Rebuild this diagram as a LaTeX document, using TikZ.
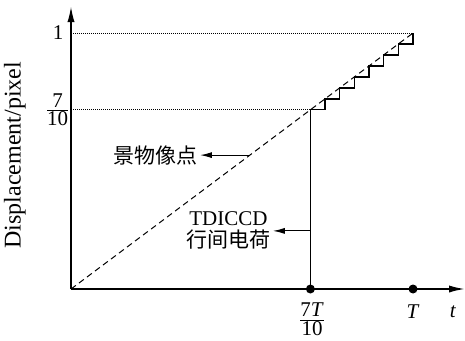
\documentclass[tikz,border=0pt]{standalone}
\usepackage{fontspec}
\setmainfont{Liberation Serif}
\newfontfamily\cjk{Noto Sans CJK SC}
\usetikzlibrary{arrows.meta, positioning}

\begin{document}
\begin{tikzpicture}[x=171pt, y=128pt, font=\fontsize{10.5}{11}\selectfont,
  tickdot/.style={circle, fill, inner sep=0pt, minimum size=4.5pt},
  axisline/.style={line width=0.9pt, -{Latex[length=8pt, width=3.6pt]}},
  pointer/.style={line width=0.6pt, -{Latex[length=6pt, width=3pt]}},
  guide/.style={line width=0.4pt, dash pattern=on 0.5pt off 0.5pt}]
\useasboundingbox (-0.2076,-0.1992) rectangle (1.152,1.1289);

% axes
\coordinate (o) at (0,0);
\coordinate (xend) at (1.152,0);
\coordinate (yend) at (0,1.105);
\draw[axisline] (o) -- (xend);
\draw[axisline] (o) -- (yend);

% levels
\coordinate (y1) at (0,1);
\coordinate (y7) at (0,0.7);
\coordinate (top) at (1,1);
\coordinate (sev) at (0.7,0.7);
\draw[guide] (y1) -- (top);
\draw[guide] (y7) -- (sev);

% image point and line charge
\draw[line width=0.5pt, dash pattern=on 3pt off 2pt] (o) -- (top);
\node[tickdot] (t7) at (0.7,0) {};
\node[tickdot] (t1) at (1,0) {};
\draw[line width=0.7pt] (t7.center) -- (sev);
\draw[line width=0.7pt] (sev) \foreach \i in {1,...,7} {-- ++(0.042857,0) -- ++(0,0.042857)};

% labels
\node (lab1) at (-0.038,1) {1};
\node (lab7) at (-0.039,0.7) {$\frac{\mbox{7}}{\mbox{10}}$};
\node[rotate=90, font=\fontsize{12}{14}\selectfont] (ylab) at (-0.164,0.523) {Displacement/pixel};
\node[inner sep=0pt] (l7) at (0.705,-0.118) {$\frac{\mbox{7\textit{T}}}{\mbox{10}}$};
\node (lT) at (1,-0.09) {\textit{T}};
\node (lt) at (1.117,-0.09) {\textit{t}};

\node[anchor=east, inner sep=1pt] (scene) at (0.377,0.523) {\cjk 景物像点};
\coordinate (sp) at (0.523,0.523);
\draw[pointer] (sp) -- (scene);

\node[anchor=east, align=center, inner sep=1pt] (charge) at (0.59,0.227) {TDICCD\\{\cjk 行间电荷}};
\coordinate (cp) at (0.7,0.227);
\draw[pointer] (cp) -- (charge);
\end{tikzpicture}
\end{document}
